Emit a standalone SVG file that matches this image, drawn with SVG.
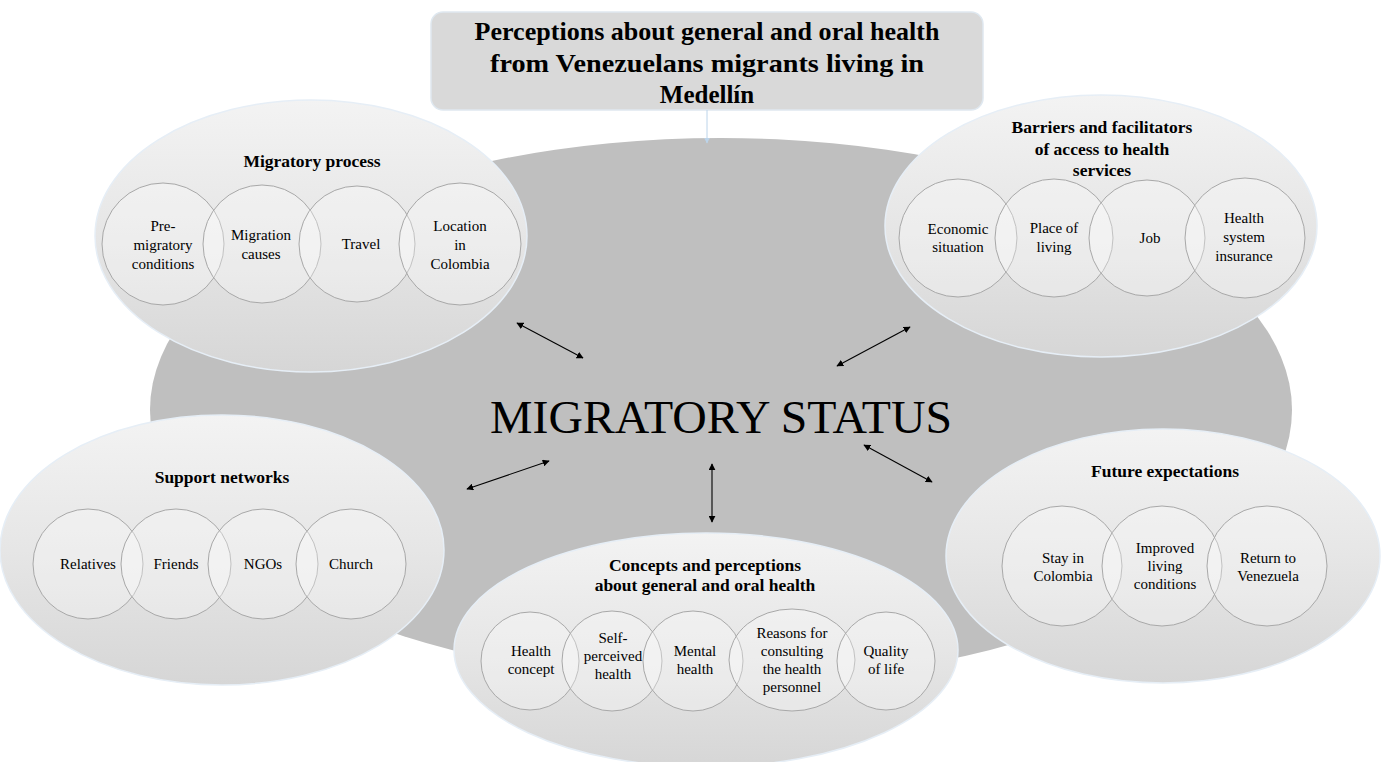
<svg xmlns="http://www.w3.org/2000/svg" width="1387" height="762" viewBox="0 0 1387 762">
<style>
.hdr{font-family:"Liberation Serif","DejaVu Serif",serif;font-weight:bold;font-size:25px;fill:#000;text-anchor:middle}
.ttl{font-family:"Liberation Serif","DejaVu Serif",serif;font-weight:bold;font-size:17.5px;fill:#000;text-anchor:middle}
.lbl{font-family:"Liberation Serif","DejaVu Serif",serif;font-size:15px;fill:#000;text-anchor:middle}
.big{font-family:"Liberation Serif","DejaVu Serif",serif;font-size:47px;fill:#000;text-anchor:middle}
.grp{fill:url(#g);stroke:#e6eef6;stroke-width:1.5}
.sub{fill:#fff;fill-opacity:0.3;stroke:#a8a8a8;stroke-width:1}
.con{stroke:#000;stroke-width:1.1;fill:none;marker-start:url(#ah);marker-end:url(#ah)}
</style>
<defs>
<linearGradient id="g" x1="0" y1="0" x2="0" y2="1">
<stop offset="0" stop-color="#f3f3f3"/>
<stop offset="0.5" stop-color="#e6e6e6"/>
<stop offset="1" stop-color="#d6d6d6"/>
</linearGradient>
<marker id="ah" viewBox="0 0 10 10" refX="9" refY="5" markerWidth="7" markerHeight="7" orient="auto-start-reverse" markerUnits="userSpaceOnUse">
<path d="M0,0 L10,5 L0,10 z" fill="#000"/>
</marker>
<marker id="ahb" viewBox="0 0 10 10" refX="9" refY="5" markerWidth="6" markerHeight="6" orient="auto" markerUnits="userSpaceOnUse">
<path d="M0,0 L10,5 L0,10 z" fill="#bcd4ea"/>
</marker>
</defs>
<rect width="1387" height="762" fill="#fff"/>
<g id="migratory-status">
<ellipse cx="721" cy="410" rx="571" ry="272" fill="#bfbfbf"/>
<text class="big" x="721" y="433" textLength="462" lengthAdjust="spacingAndGlyphs">MIGRATORY STATUS</text>
</g>
<g id="migratory-process">
<ellipse class="grp" cx="311" cy="236" rx="216" ry="136"/>
<text class="ttl" x="312" y="167">Migratory process</text>
<circle class="sub" cx="163" cy="244" r="61"/>
<circle class="sub" cx="262" cy="244" r="59"/>
<circle class="sub" cx="357" cy="244" r="58"/>
<circle class="sub" cx="460" cy="244" r="61"/>
<text class="lbl" x="163" y="231">Pre-</text>
<text class="lbl" x="163" y="250">migratory</text>
<text class="lbl" x="163" y="269">conditions</text>
<text class="lbl" x="261" y="240">Migration</text>
<text class="lbl" x="261" y="259">causes</text>
<text class="lbl" x="361" y="249">Travel</text>
<text class="lbl" x="460" y="231">Location</text>
<text class="lbl" x="460" y="250">in</text>
<text class="lbl" x="460" y="269">Colombia</text>
</g>
<g id="barriers">
<ellipse class="grp" cx="1101" cy="226" rx="216" ry="131"/>
<text class="ttl" x="1102" y="133">Barriers and facilitators</text>
<text class="ttl" x="1102" y="155">of access to health</text>
<text class="ttl" x="1102" y="176">services</text>
<circle class="sub" cx="958" cy="238" r="59"/>
<circle class="sub" cx="1054" cy="238" r="59"/>
<circle class="sub" cx="1147" cy="238" r="58"/>
<circle class="sub" cx="1245" cy="238" r="60"/>
<text class="lbl" x="958" y="234">Economic</text>
<text class="lbl" x="958" y="252">situation</text>
<text class="lbl" x="1054" y="233">Place of</text>
<text class="lbl" x="1054" y="252">living</text>
<text class="lbl" x="1150" y="243">Job</text>
<text class="lbl" x="1244" y="223">Health</text>
<text class="lbl" x="1244" y="242">system</text>
<text class="lbl" x="1244" y="261">insurance</text>
</g>
<g id="support-networks">
<ellipse class="grp" cx="222" cy="550" rx="222" ry="135"/>
<text class="ttl" x="222" y="483">Support networks</text>
<circle class="sub" cx="88" cy="564" r="55"/>
<circle class="sub" cx="176" cy="564" r="55"/>
<circle class="sub" cx="263" cy="564" r="55"/>
<circle class="sub" cx="351" cy="564" r="55"/>
<text class="lbl" x="88" y="569">Relatives</text>
<text class="lbl" x="176" y="569">Friends</text>
<text class="lbl" x="263" y="569">NGOs</text>
<text class="lbl" x="351" y="569">Church</text>
</g>
<g id="concepts">
<ellipse class="grp" cx="706" cy="650" rx="252" ry="117"/>
<text class="ttl" x="705" y="571">Concepts and perceptions</text>
<text class="ttl" x="705" y="591">about general and oral health</text>
<circle class="sub" cx="530" cy="661" r="49"/>
<circle class="sub" cx="612" cy="661" r="50"/>
<circle class="sub" cx="693" cy="661" r="50"/>
<ellipse class="sub" cx="792" cy="660" rx="63" ry="51"/>
<circle class="sub" cx="886" cy="661" r="49"/>
<text class="lbl" x="531" y="656">Health</text>
<text class="lbl" x="531" y="674">concept</text>
<text class="lbl" x="613" y="643">Self-</text>
<text class="lbl" x="613" y="661">perceived</text>
<text class="lbl" x="613" y="679">health</text>
<text class="lbl" x="695" y="656">Mental</text>
<text class="lbl" x="695" y="674">health</text>
<text class="lbl" x="792" y="638">Reasons for</text>
<text class="lbl" x="792" y="656">consulting</text>
<text class="lbl" x="792" y="674">the health</text>
<text class="lbl" x="792" y="692">personnel</text>
<text class="lbl" x="886" y="656">Quality</text>
<text class="lbl" x="886" y="674">of life</text>
</g>
<g id="future-expectations">
<ellipse class="grp" cx="1163" cy="556" rx="217" ry="127"/>
<text class="ttl" x="1165" y="477">Future expectations</text>
<circle class="sub" cx="1062" cy="566" r="60"/>
<circle class="sub" cx="1162" cy="566" r="60"/>
<circle class="sub" cx="1267" cy="566" r="60"/>
<text class="lbl" x="1063" y="563">Stay in</text>
<text class="lbl" x="1063" y="581">Colombia</text>
<text class="lbl" x="1165" y="553">Improved</text>
<text class="lbl" x="1165" y="571">living</text>
<text class="lbl" x="1165" y="589">conditions</text>
<text class="lbl" x="1268" y="563">Return to</text>
<text class="lbl" x="1268" y="581">Venezuela</text>
</g>
<g id="title">
<rect x="431" y="12" width="552" height="98" rx="12" fill="#d9d9d9" stroke="#dfe8f0" stroke-width="1.5"/>
<text class="hdr" x="707" y="40" textLength="465" lengthAdjust="spacingAndGlyphs">Perceptions about general and oral health</text>
<text class="hdr" x="707" y="72" textLength="434" lengthAdjust="spacingAndGlyphs">from Venezuelans migrants living in</text>
<text class="hdr" x="707" y="103">Medellín</text>
</g>
<g id="connectors">
<line x1="707" y1="110" x2="707" y2="143" stroke="#bcd4ea" stroke-width="1" marker-end="url(#ahb)"/>
<line class="con" x1="517" y1="323" x2="583" y2="358"/>
<line class="con" x1="910" y1="327" x2="837" y2="366"/>
<line class="con" x1="549" y1="461" x2="467" y2="489"/>
<line class="con" x1="712" y1="464" x2="712" y2="522"/>
<line class="con" x1="864" y1="445" x2="932" y2="482"/>
</g>
</svg>
